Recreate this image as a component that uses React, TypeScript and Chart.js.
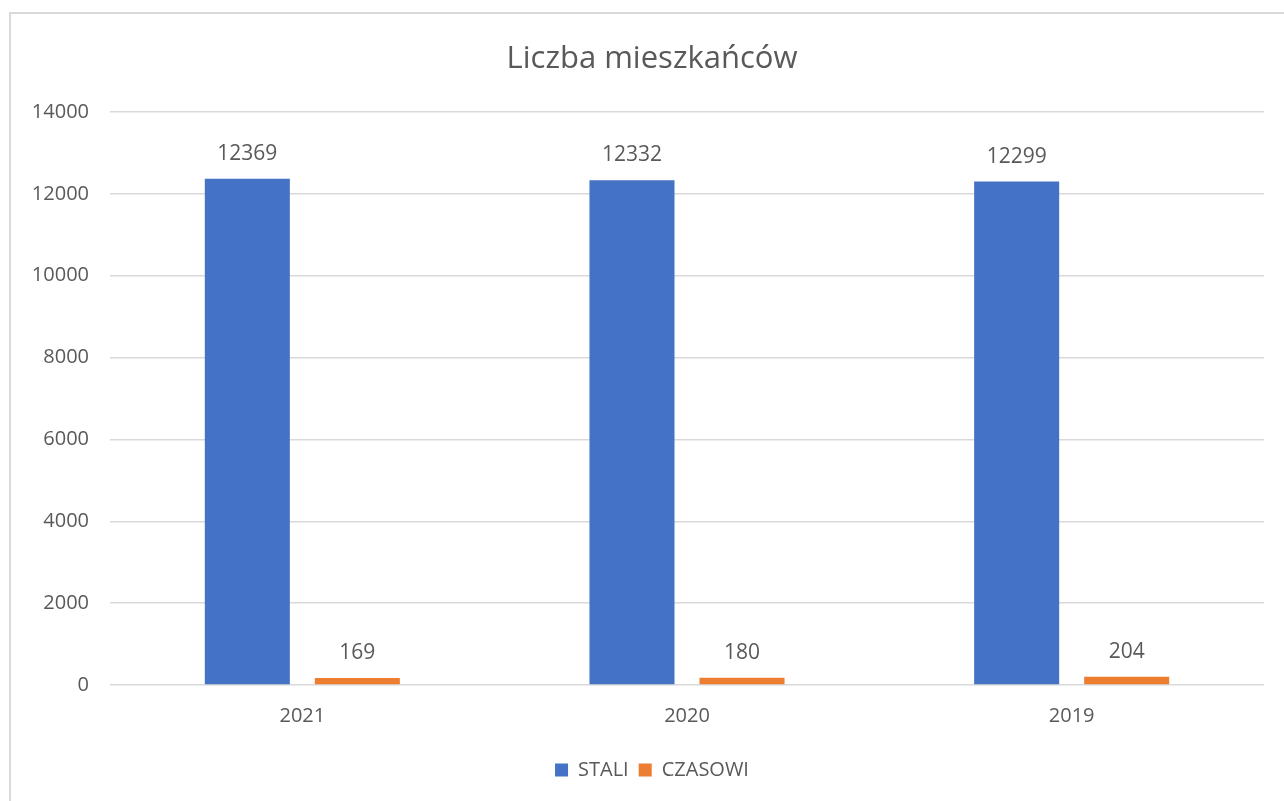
import React, { useEffect, useRef } from "react";
import { Chart, registerables } from "chart.js";

Chart.register(...registerables);

const categories = ["2021", "2020", "2019"];
const staliValues = [12369, 12332, 12299];
const czasowiValues = [169, 180, 204];
const yTicks = [0, 2000, 4000, 6000, 8000, 10000, 12000, 14000];
const titleText = "Liczba mieszkańców";
const seriesNames = ["STALI", "CZASOWI"];

const FONT = "'Open Sans', 'Noto Sans', sans-serif";
const TEXT = "#595959";

const valueLabels = {
  id: "valueLabels",
  afterDatasetsDraw(chart: any) {
    const ctx = chart.ctx;
    ctx.save();
    ctx.font = `21px ${FONT}`;
    ctx.fillStyle = TEXT;
    ctx.textAlign = "center";
    ctx.textBaseline = "middle";
    chart.data.datasets.forEach((ds: any, i: number) => {
      const meta = chart.getDatasetMeta(i);
      meta.data.forEach((bar: any, j: number) => {
        ctx.fillText(String(ds.data[j]), bar.x, bar.y - 25);
      });
    });
    ctx.restore();
  },
};

export default function App() {
  const ref = useRef<HTMLCanvasElement | null>(null);
  useEffect(() => {
    document.body.style.margin = "0";
    const chart = new Chart(ref.current!, {
      type: "bar",
      data: {
        labels: categories,
        datasets: [
          { label: seriesNames[0], data: staliValues, backgroundColor: "#4472C4" },
          { label: seriesNames[1], data: czasowiValues, backgroundColor: "#ED7D31" },
        ],
      },
      plugins: [valueLabels],
      options: {
        animation: false,
        responsive: false,
        maintainAspectRatio: false,
        layout: { padding: { top: 0, left: 20, right: 0, bottom: 11 } },
        datasets: { bar: { categoryPercentage: 0.572, barPercentage: 0.773 } },
        plugins: {
          title: {
            display: true,
            text: titleText,
            color: TEXT,
            font: { family: FONT, size: 31, weight: "normal", lineHeight: 1.2 },
            padding: { top: 41, bottom: 33.8 },
          },
          legend: {
            position: "bottom",
            labels: {
              color: TEXT,
              font: { family: FONT, size: 20 },
              boxWidth: 13,
              boxHeight: 13,
              padding: 10,
            },
          },
          tooltip: { enabled: false },
        },
        scales: {
          x: {
            grid: { display: false, drawTicks: false },
            border: { display: false },
            ticks: { color: TEXT, font: { family: FONT, size: 20 }, padding: 19 },
            afterFit(scale: any) {
              scale.height = 65;
            },
          },
          y: {
            min: 0,
            max: 14000,
            afterBuildTicks(scale: any) {
              scale.ticks = yTicks.map((v) => ({ value: v }));
            },
            grid: { color: "#D9D9D9", lineWidth: 1.5, drawTicks: false },
            border: { display: false },
            ticks: {
              color: TEXT,
              font: { family: FONT, size: 20 },
              padding: 21,
              callback: (v: any) => String(v),
            },
            afterFit(scale: any) {
              scale.width = 90;
            },
          },
          yRight: {
            position: "right",
            min: 0,
            max: 14000,
            grid: { display: false, drawTicks: false },
            border: { display: false },
            ticks: { display: false },
            afterFit(scale: any) {
              scale.width = 20;
            },
          },
        },
      },
    });
    return () => chart.destroy();
  }, []);
  return (
    <div style={{ position: "relative", width: 1284, height: 801, overflow: "hidden", background: "#fff" }}>
      <div
        style={{
          position: "absolute",
          left: 9,
          top: 12,
          width: 1300,
          height: 800,
          borderLeft: "2px solid #D9D9D9",
          borderTop: "2px solid #D9D9D9",
        }}
      />
      <canvas ref={ref} width={1284} height={801} style={{ position: "absolute", left: 0, top: 0 }} />
    </div>
  );
}
